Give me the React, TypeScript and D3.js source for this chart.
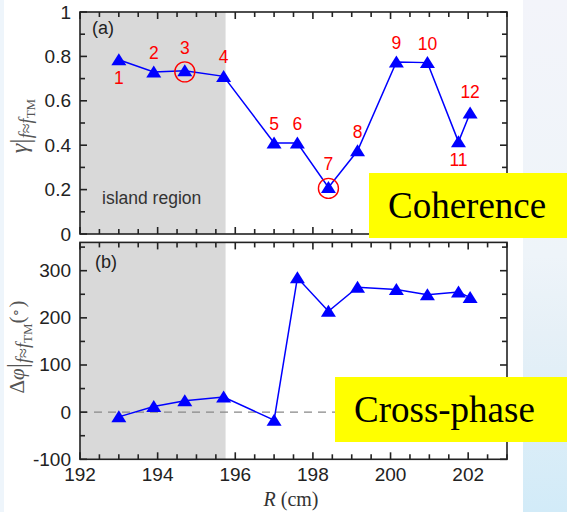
import React from "react";
import * as d3 from "d3";

const pointLabels = ["1", "2", "3", "4", "5", "6", "7", "8", "9", "10", "11", "12"];
const radius = [193.0, 193.9, 194.7, 195.7, 197.0, 197.6, 198.4, 199.15, 200.15, 200.95, 201.75, 202.05];
const coherence = [0.785, 0.73, 0.735, 0.71, 0.41, 0.41, 0.21, 0.375, 0.775, 0.772, 0.415, 0.545];
const crossPhase = [-10, 12, 24, 32, -17, 285, 214, 265, 260, 249, 255, 243];
const xTicks = [192, 194, 196, 198, 200, 202];
const yTicksA = [0, 0.2, 0.4, 0.6, 0.8, 1];
const yTicksB = [-100, 0, 100, 200, 300];
const circled = [2, 6];
const belowLabels = [0, 10];
const islandEnd = 195.75;

const W = 567;
const H = 512;
const L = 80;
const Rt = 507;

const x = d3.scaleLinear().domain([192, 203]).range([L, Rt]);
const yA = d3.scaleLinear().domain([0, 1]).range([234, 12]);
const yB = d3.scaleLinear().domain([-100, 360]).range([459.3, 242.4]);

const tickFont = "'Liberation Sans', Arial, sans-serif";
const serif = "'Liberation Serif', 'Times New Roman', serif";

function tri(cx: number, cy: number) {
  return `M${cx},${cy - 6.5}L${cx + 7.5},${cy + 5.5}L${cx - 7.5},${cy + 5.5}Z`;
}

function Frame({ y, minorStep, majorStep }: { y: d3.ScaleLinear<number, number>; minorStep: number; majorStep: number }) {
  const [y0, y1] = y.domain();
  const top = y.range()[1];
  const bot = y.range()[0];
  const xt = d3.range(192, 203.01, 0.5);
  const yt: number[] = [];
  for (let v = Math.ceil(y0 / minorStep) * minorStep; v <= y1 + 1e-9; v += minorStep) yt.push(+v.toFixed(6));
  const isMajX = (v: number) => Math.abs(v / 2 - Math.round(v / 2)) < 1e-6;
  const isMajY = (v: number) => Math.abs(v / majorStep - Math.round(v / majorStep)) < 1e-6;
  return (
    <g stroke="#222" strokeWidth={1.6} fill="none">
      <rect x={L} y={top} width={Rt - L} height={bot - top} />
      {xt.map((v) => {
        const len = isMajX(v) ? 7 : 5;
        return (
          <g key={"x" + v}>
            <line x1={x(v)} x2={x(v)} y1={bot} y2={bot - len} />
            <line x1={x(v)} x2={x(v)} y1={top} y2={top + len} />
          </g>
        );
      })}
      {yt.map((v) => {
        const len = isMajY(v) ? 7 : 5;
        return (
          <g key={"y" + v}>
            <line x1={L} x2={L + len} y1={y(v)} y2={y(v)} />
            <line x1={Rt} x2={Rt - len} y1={y(v)} y2={y(v)} />
          </g>
        );
      })}
    </g>
  );
}

export default function App() {
  const lineA = d3.line<number>().x((_, i) => x(radius[i])).y((d) => yA(d));
  const lineB = d3.line<number>().x((_, i) => x(radius[i])).y((d) => yB(d));
  return (
    <svg width={W} height={H} style={{ position: "absolute", left: 0, top: 0 }}>
      <defs>
        <linearGradient id="bg" x1="0" y1="0" x2="0" y2="1">
          <stop offset="0" stopColor="#f3f4fa" />
          <stop offset="0.5" stopColor="#eef4f9" />
          <stop offset="0.65" stopColor="#e6f0f7" />
          <stop offset="1" stopColor="#d2ebf8" />
        </linearGradient>
      </defs>
      <rect x={0} y={0} width={W} height={H} fill="#fff" />
      <rect x={523} y={0} width={W - 523} height={H} fill="url(#bg)" />
      <rect x={0} y={0} width={4} height={H} fill="#eef5fb" />

      {/* island region shading */}
      <rect x={L} y={yA(1)} width={x(islandEnd) - L} height={yA(0) - yA(1)} fill="#d9d9d9" />
      <rect x={L} y={yB(360)} width={x(islandEnd) - L} height={yB(-100) - yB(360)} fill="#d9d9d9" />

      {/* panel a */}
      <Frame y={yA} minorStep={0.1} majorStep={0.2} />
      {yTicksA.map((v) => (
        <text key={v} x={71} y={yA(v) + 6.5} textAnchor="end" fontFamily={tickFont} fontSize={19} fill="#222">
          {String(v)}
        </text>
      ))}
      <text x={92} y={34} fontFamily={tickFont} fontSize={18} fill="#222">(a)</text>
      <text x={102} y={204} fontFamily={tickFont} fontSize={17.5} fill="#333">island region</text>
      <path d={lineA(coherence) || ""} fill="none" stroke="#0000ff" strokeWidth={1.5} />
      {coherence.map((v, i) => (
        <path key={i} d={tri(x(radius[i]), yA(v))} fill="#0000ff" />
      ))}
      {circled.map((i) => (
        <circle key={i} cx={x(radius[i])} cy={yA(coherence[i]) + 1} r={10} fill="none" stroke="#ff0000" strokeWidth={1.4} />
      ))}
      {pointLabels.map((t, i) => {
        const below = belowLabels.includes(i);
        const off = below ? 24 : circled.includes(i) ? -17 : i === 11 ? -15 : -13;
        return (
          <text key={t} x={x(radius[i])} y={yA(coherence[i]) + off} textAnchor="middle" fontFamily={tickFont} fontSize={17.5} fill="#ff0000">
            {t}
          </text>
        );
      })}

      {/* panel b */}
      <line x1={L} x2={Rt} y1={yB(0)} y2={yB(0)} stroke="#888" strokeWidth={1.3} strokeDasharray="8,6" />
      <Frame y={yB} minorStep={50} majorStep={100} />
      {yTicksB.map((v) => (
        <text key={v} x={71} y={yB(v) + 6.5} textAnchor="end" fontFamily={tickFont} fontSize={19} fill="#222">
          {String(v)}
        </text>
      ))}
      {xTicks.map((v) => (
        <text key={v} x={x(v)} y={481} textAnchor="middle" fontFamily={tickFont} fontSize={19} fill="#222">
          {String(v)}
        </text>
      ))}
      <text x={95} y={268} fontFamily={tickFont} fontSize={18} fill="#222">(b)</text>
      <path d={lineB(crossPhase) || ""} fill="none" stroke="#0000ff" strokeWidth={1.5} />
      {crossPhase.map((v, i) => (
        <path key={i} d={tri(x(radius[i]), yB(v))} fill="#0000ff" />
      ))}

      {/* axis titles */}
      <text x={291} y={506} textAnchor="middle" fontFamily={serif} fontSize={20} fill="#333">
        <tspan fontStyle="italic">R</tspan>
        <tspan> (cm)</tspan>
      </text>
      <g transform="translate(27,126) rotate(-90)">
        <text textAnchor="middle" fontFamily={serif} fontSize={24} fill="#555">
          <tspan fontStyle="italic">γ</tspan>
          <tspan fontSize={27} dy={2}>|</tspan>
          <tspan fontStyle="italic" fontSize={18} dy={3}>f</tspan>
          <tspan fontSize={18}>≈</tspan>
          <tspan fontStyle="italic" fontSize={18}>f</tspan>
          <tspan fontSize={13} dy={3}>TM</tspan>
        </text>
      </g>
      <g transform="translate(24,347) rotate(-90)">
        <text textAnchor="middle" fontFamily={serif} fontSize={21} fill="#555">
          <tspan>Δ</tspan>
          <tspan fontStyle="italic">φ</tspan>
          <tspan fontSize={27} dy={2}>|</tspan>
          <tspan fontStyle="italic" fontSize={18} dy={3}>f</tspan>
          <tspan fontSize={18}>≈</tspan>
          <tspan fontStyle="italic" fontSize={18}>f</tspan>
          <tspan fontSize={13} dy={3}>TM</tspan>
          <tspan fontSize={21} dy={-8}>(</tspan>
          <tspan fontSize={14} dy={-4}>∘</tspan>
          <tspan fontSize={21} dy={4}>)</tspan>
        </text>
      </g>

      {/* yellow callouts */}
      <rect x={369} y={173} width={W - 369} height={65} fill="#ffff00" />
      <text x={388} y={218} fontFamily={serif} fontSize={37} fill="#000">Coherence</text>
      <rect x={335} y={377} width={W - 335} height={65} fill="#ffff00" />
      <text x={354} y={422} fontFamily={serif} fontSize={37} fill="#000">Cross-phase</text>
    </svg>
  );
}
